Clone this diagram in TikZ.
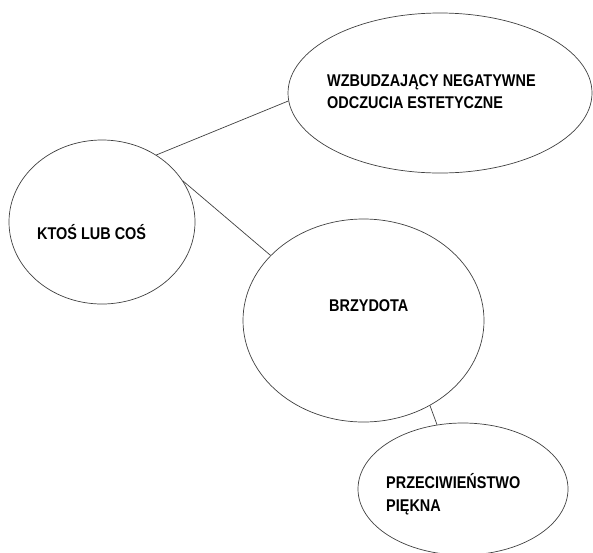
\documentclass[tikz,border=0pt]{standalone}
\usepackage{fontspec}
\setmainfont{Liberation Sans}
\newfontfamily\lblfont[FakeStretch=0.85]{Liberation Sans Bold}
\usetikzlibrary{shapes.geometric}

\begin{document}
\begin{tikzpicture}[x=1pt, y=-1pt,
  bubble/.style={ellipse, draw=black!75, line width=0.7pt, inner sep=0pt},
  lbl/.style={font=\lblfont\fontsize{17}{22}\selectfont, align=left, anchor=west, inner sep=0pt},
  conn/.style={draw=black!75, line width=0.7pt}]
\useasboundingbox (0,0) rectangle (593,552);
\clip (0,0) rectangle (593,552);

% Ellipses
\node[bubble, minimum width=304pt, minimum height=160pt] (wzb) at (440,93) {};
\node[bubble, minimum width=186pt, minimum height=164pt] (kto) at (102,222) {};
\node[bubble, minimum width=241pt, minimum height=203pt] (brz) at (363.5,320.5) {};
\node[bubble, minimum width=210pt, minimum height=132pt] (prz) at (463,489) {};

% Labels
\node[lbl] (wzbtxt) at (327,92) {WZBUDZAJĄCY NEGATYWNE\\ODCZUCIA ESTETYCZNE};
\node[lbl] (ktotxt) at (37,232) {KTOŚ LUB COŚ};
\node[lbl] (brztxt) at (329,306) {BRZYDOTA};
\node[lbl] (prztxt) at (386,494) {PRZECIWIEŃSTWO\\[1pt]PIĘKNA};

% Connectors
\draw[conn] (kto.51) -- (wzb.183);
\draw[conn] (kto.27) -- (brz.145);
\draw[conn] (brz.308) -- (prz.112);
\end{tikzpicture}
\end{document}
